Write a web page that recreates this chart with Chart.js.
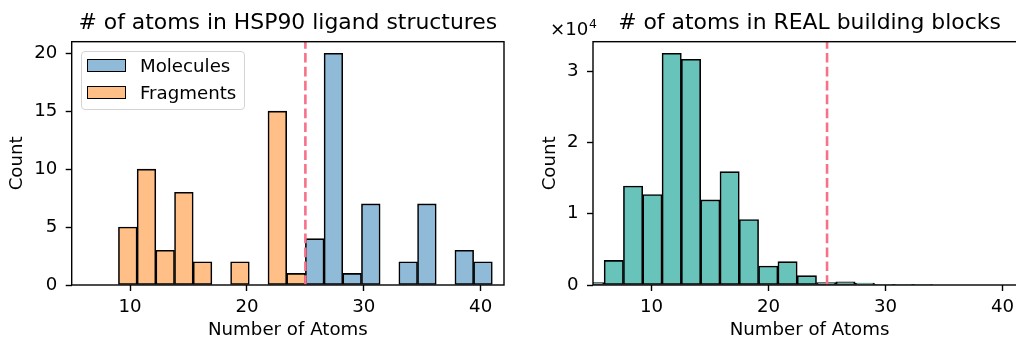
<!DOCTYPE html>
<html lang="en">
<head>
<meta charset="UTF-8">
<title># of atoms</title>
<script src="https://cdn.jsdelivr.net/npm/chart.js"></script>
<style>
  html, body { margin: 0; padding: 0; background: #fff; overflow: hidden; }
  body { width: 1016px; height: 339px; position: relative; font-family: 'DejaVu Sans', sans-serif; }
  .panel { position: absolute; top: 0; height: 339px; }
  #leftPanel { left: 0; width: 510px; }
  #rightPanel { left: 510px; width: 522px; }
  /* legend box drawn like the matplotlib one */
  .legend { position: absolute; left: 81px; top: 51px; width: 162px; height: 57px; border: 1px solid #d4d4d4; border-radius: 4px; background: rgba(255,255,255,0.8); }
  .legend-row { position: absolute; left: 5.3px; height: 26px; display: flex; align-items: center; font-size: 18.2px; color: #000; white-space: nowrap; }
  .legend-box { box-sizing: border-box; width: 38.4px; height: 12.7px; border: 1.5px solid #000; margin-right: 14.3px; }
</style>
</head>
<body>
<div class="panel" id="leftPanel">
  <canvas id="hspChart" width="510" height="339"></canvas>
  <div class="legend" id="hspLegend"></div>
</div>
<div class="panel" id="rightPanel">
  <canvas id="realChart" width="522" height="339"></canvas>
</div>

<script>
// shared x axis
const xTicks = [10, 20, 30, 40];
const xMin = 5;
const xMax = 42;
const cutoff = 25;

// left: HSP90 ligands, bins 1.6 wide (centres)
const moleculeBins = [25.8, 27.4, 29.0, 30.6, 32.2, 33.8, 35.4, 37.0, 38.6, 40.2];
const moleculeCounts = [4, 20, 1, 7, 0, 2, 7, 0, 3, 2];
const fragmentBins = [9.8, 11.4, 13.0, 14.6, 16.2, 17.8, 19.4, 21.0, 22.6, 24.2];
const fragmentCounts = [5, 10, 3, 8, 2, 0, 2, 0, 15, 1];
const hspYTicks = [0, 5, 10, 15, 20];
const hspYMax = 21;

// right: REAL building blocks, bins 1.65 wide (centres)
const realBins = [5.125, 6.775, 8.425, 10.075, 11.725, 13.375, 15.025, 16.675, 18.325,
                  19.975, 21.625, 23.275, 24.925, 26.575, 28.225, 29.875, 31.525, 33.175];
const realCounts = [350, 3450, 13900, 12700, 32520, 31680, 11940, 15910, 9190,
                    2660, 3270, 1310, 350, 450, 260, 80, 50, 30];
const realYTicks = [0, 10000, 20000, 30000];
const realYMax = 34150;

Chart.defaults.font.family = "'DejaVu Sans', sans-serif";
Chart.defaults.font.size = 18.2;
Chart.defaults.color = '#000';

const toPoints = (xs, ys) => xs.map((x, i) => ({ x: x, y: ys[i] === 0 ? null : ys[i] }));

// box around the plot area (matplotlib spines)
const spinesPlugin = {
  id: 'spines',
  afterDraw(chart) {
    const a = chart.chartArea, ctx = chart.ctx;
    ctx.save();
    ctx.strokeStyle = '#000';
    ctx.lineWidth = 1.4;
    ctx.strokeRect(a.left, a.top, a.right - a.left, a.bottom - a.top);
    ctx.restore();
  }
};

// "x10^4" offset text above the y axis
const offsetTextPlugin = {
  id: 'offsetText',
  afterDraw(chart) {
    const a = chart.chartArea, ctx = chart.ctx;
    ctx.save();
    ctx.fillStyle = '#000';
    ctx.textBaseline = 'alphabetic';
    ctx.font = "18.2px 'DejaVu Sans'";
    const x = a.left - 43, y = a.top - 6.7;
    ctx.fillText('×10', x, y);
    const w = ctx.measureText('×10').width;
    ctx.font = "12.5px 'DejaVu Sans'";
    ctx.fillText('4', x + w + 0.5, y - 7);
    ctx.restore();
  }
};

// html legend built from the bar datasets
const htmlLegendPlugin = {
  id: 'htmlLegend',
  afterUpdate(chart, args, opts) {
    const box = document.getElementById(opts.containerID);
    if (!box) return;
    box.innerHTML = '';
    chart.data.datasets.filter(ds => ds.type !== 'line').forEach((ds, i) => {
      const row = document.createElement('div');
      row.className = 'legend-row';
      row.style.top = (0.7 + i * 26.65) + 'px';
      const patch = document.createElement('span');
      patch.className = 'legend-box';
      patch.style.background = ds.backgroundColor;
      const label = document.createElement('span');
      label.textContent = ds.label;
      row.appendChild(patch);
      row.appendChild(label);
      box.appendChild(row);
    });
  }
};

const tickGrid = { display: true, drawOnChartArea: false, drawTicks: true, tickLength: 6, tickWidth: 1.4, tickColor: '#000', offset: false };

function xScale() {
  return {
    type: 'linear', min: xMin, max: xMax, offset: false,
    afterBuildTicks: s => { s.ticks = xTicks.map(v => ({ value: v })); },
    grid: tickGrid,
    border: { display: false },
    ticks: { padding: 5, maxRotation: 0, autoSkip: false },
    title: { display: true, text: 'Number of Atoms', font: { size: 18.2, lineHeight: 1 }, padding: 0 },
    afterFit: s => { s.height = 54; }
  };
}

function yScale(max, ticks, width, titlePad, fmt) {
  return {
    type: 'linear', min: 0, max: max,
    afterBuildTicks: s => { s.ticks = ticks.map(v => ({ value: v })); },
    grid: tickGrid,
    border: { display: false },
    ticks: { padding: 8.4, callback: fmt },
    title: { display: true, text: 'Count', font: { size: 18.2, lineHeight: 1 }, padding: { top: titlePad, bottom: 0 } },
    afterFit: s => { s.width = width; }
  };
}

function cutoffLine(ymax) {
  return {
    type: 'line', label: 'cutoff',
    data: [{ x: cutoff, y: 0 }, { x: cutoff, y: ymax }],
    borderColor: '#f77189', borderWidth: 2.6, borderDash: [9.7, 4.2],
    pointRadius: 0, fill: false, clip: 0
  };
}

function titleOpts(text) {
  return {
    display: true, text: text, fullSize: false,
    font: { size: 21.9, weight: 'normal', lineHeight: 1.2 },
    padding: { top: 10, bottom: 5.4 }
  };
}

const barStyle = { borderColor: '#000', borderWidth: 1.6, borderSkipped: false, grouped: false,
                   barPercentage: 1, categoryPercentage: 1, clip: 0 };
const barDefaults = { bar: { barPercentage: 1, categoryPercentage: 1 } };

new Chart(document.getElementById('hspChart'), {
  type: 'bar',
  data: {
    datasets: [
      cutoffLine(hspYMax),
      Object.assign({ label: 'Molecules', data: toPoints(moleculeBins, moleculeCounts), backgroundColor: '#8fbbd9' }, barStyle),
      Object.assign({ label: 'Fragments', data: toPoints(fragmentBins, fragmentCounts), backgroundColor: '#ffbf86' }, barStyle)
    ]
  },
  options: {
    responsive: false, animation: false,
    datasets: barDefaults,
    layout: { padding: { left: 0, right: 6, top: 0, bottom: 0 } },
    scales: { x: xScale(), y: yScale(hspYMax, hspYTicks, 71.7, 8.4) },
    plugins: {
      title: titleOpts('# of atoms in HSP90 ligand structures'),
      legend: { display: false },
      tooltip: { enabled: false },
      htmlLegend: { containerID: 'hspLegend' }
    }
  },
  plugins: [spinesPlugin, htmlLegendPlugin]
});

new Chart(document.getElementById('realChart'), {
  type: 'bar',
  data: {
    datasets: [
      cutoffLine(realYMax),
      Object.assign({ label: 'REAL building blocks', data: toPoints(realBins, realCounts), backgroundColor: '#68c3ba' }, barStyle)
    ]
  },
  options: {
    responsive: false, animation: false,
    datasets: barDefaults,
    layout: { padding: { left: 0, right: 6, top: 0, bottom: 0 } },
    scales: { x: xScale(), y: yScale(realYMax, realYTicks, 83, 31.4, v => v / 10000) },
    plugins: {
      title: titleOpts('# of atoms in REAL building blocks'),
      legend: { display: false },
      tooltip: { enabled: false }
    }
  },
  plugins: [spinesPlugin, offsetTextPlugin]
});
</script>
</body>
</html>
